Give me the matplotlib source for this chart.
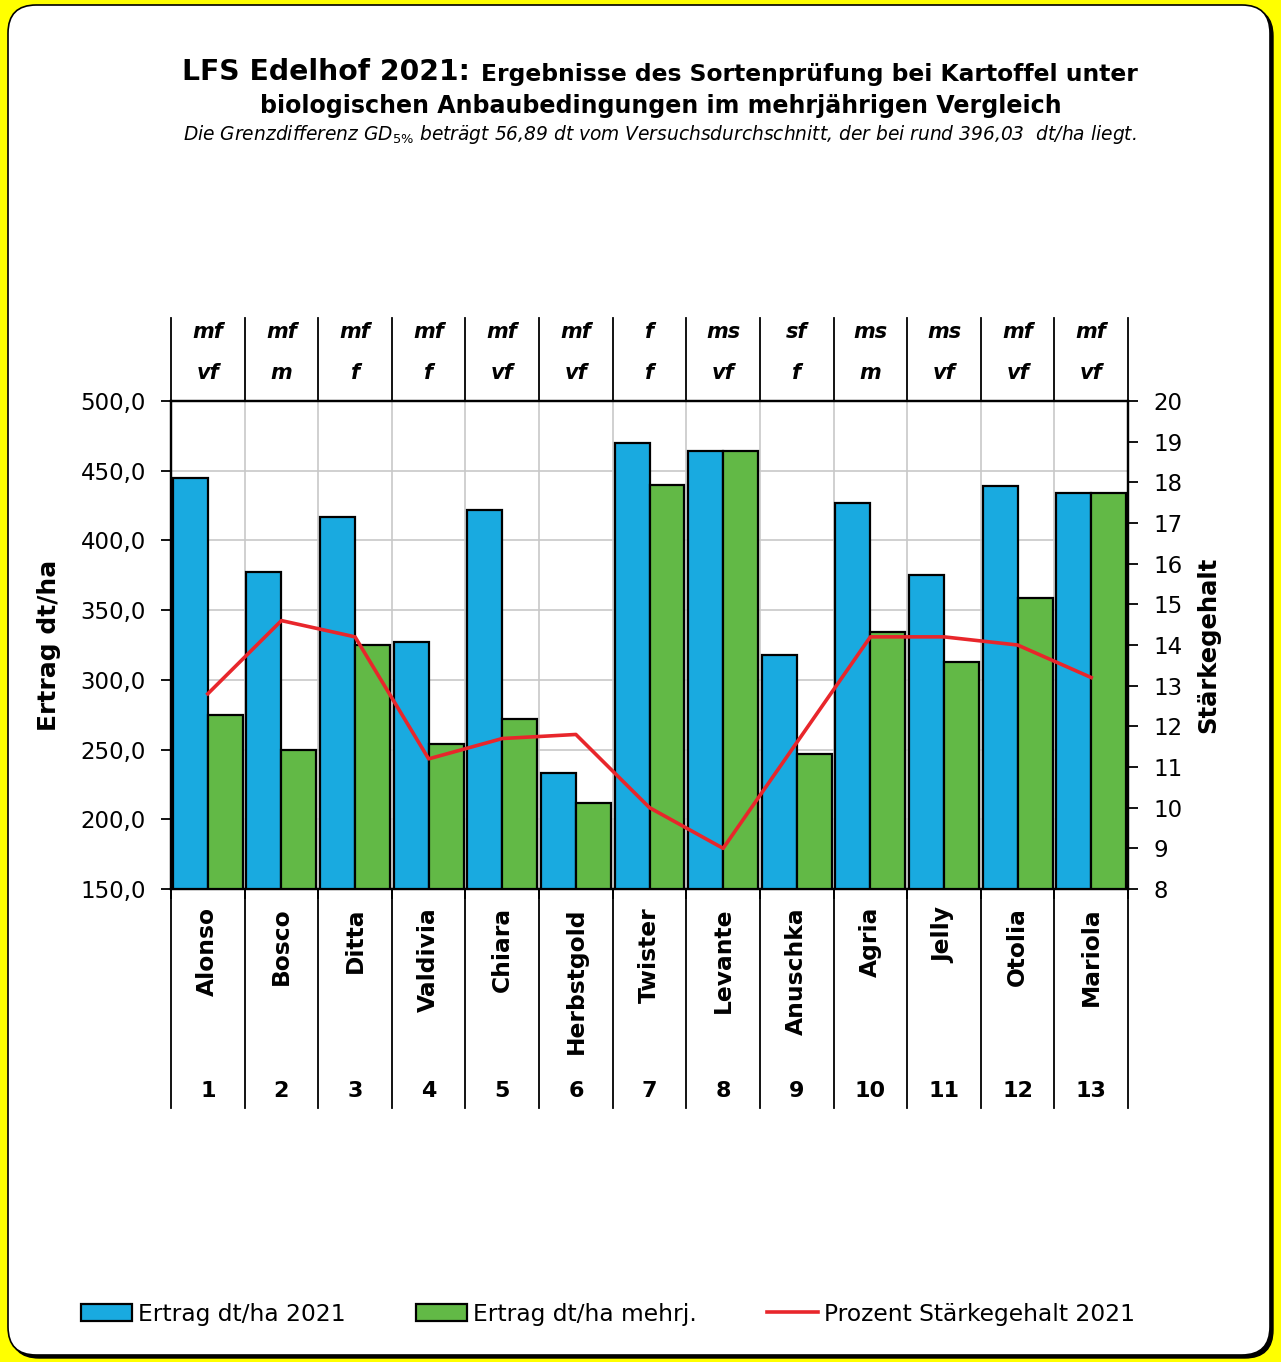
import numpy as np
import matplotlib
matplotlib.use("Agg")
import matplotlib.pyplot as plt
from matplotlib.patches import FancyBboxPatch, Patch
from matplotlib.lines import Line2D

sorten = ["Alonso", "Bosco", "Ditta", "Valdivia", "Chiara", "Herbstgold", "Twister",
          "Levante", "Anuschka", "Agria", "Jelly", "Otolia", "Mariola"]
nummern = [str(i) for i in range(1, 14)]
reife = ["mf", "mf", "mf", "mf", "mf", "mf", "f", "ms", "sf", "ms", "ms", "mf", "mf"]
typ = ["vf", "m", "f", "f", "vf", "vf", "f", "vf", "f", "m", "vf", "vf", "vf"]
ertrag_2021 = [445, 377, 417, 327, 422, 233, 470, 464, 318, 427, 375, 439, 434]
ertrag_mehrj = [275, 250, 325, 254, 272, 212, 440, 464, 247, 334, 313, 359, 434]
staerke_2021 = [12.8, 14.6, 14.2, 11.2, 11.7, 11.8, 10.0, 9.0, 11.6, 14.2, 14.2, 14.0, 13.2]

W, H = 1281, 1362
fig = plt.figure(figsize=(W / 100, H / 100), dpi=100)
fig.patch.set_facecolor("#ffff00")

# frame with shadow
shadow = FancyBboxPatch((11 / W, 4 / H), 1262 / W, 1350 / H,
                        boxstyle="round,pad=0,rounding_size=0.022",
                        transform=fig.transFigure, facecolor="black", edgecolor="black",
                        mutation_aspect=W / H, zorder=-3)
frame = FancyBboxPatch((8 / W, 7 / H), 1262 / W, 1350 / H,
                       boxstyle="round,pad=0,rounding_size=0.022",
                       transform=fig.transFigure, facecolor="white", edgecolor="black",
                       linewidth=1.2, mutation_aspect=W / H, zorder=-2)
fig.patches.extend([shadow, frame])

ax = fig.add_axes([171 / W, 1 - 889 / H, (1128 - 171) / W, (889 - 401) / H])
ax.set_facecolor("none")
x = np.arange(len(sorten))
bw = 0.475
blue = "#19aae0"
green = "#62b946"
ax.bar(x - bw / 2, ertrag_2021, width=bw, color=blue, edgecolor="black", linewidth=1.6, zorder=3)
ax.bar(x + bw / 2, ertrag_mehrj, width=bw, color=green, edgecolor="black", linewidth=1.6, zorder=3)
ax.set_ylim(150, 500)
ax.set_xlim(-0.5, len(sorten) - 0.5)
ax.set_yticks(np.arange(150, 501, 50))
ax.set_yticklabels([f"{v:.1f}".replace(".", ",") for v in np.arange(150, 501, 50)], fontsize=16.5)
ax.set_xticks(np.arange(-0.5, len(sorten), 1.0))
ax.set_xticklabels([])
ax.grid(True, color="#c8c8c8", linewidth=1.2, zorder=0)
ax.set_axisbelow(True)
ax.tick_params(axis="both", direction="out", length=7, width=1.3, color="black")
ax.tick_params(axis="y", pad=11)
for s in ax.spines.values():
    s.set_linewidth(1.6)
    s.set_color("black")
ax.set_ylabel("Ertrag dt/ha", fontsize=18, fontweight="bold", labelpad=14)

ax2 = ax.twinx()
ax2.plot(x, staerke_2021, color="#e8262b", linewidth=2.6, zorder=5)
ax2.set_ylim(8, 20)
ax2.set_yticks(np.arange(8, 21, 1))
ax2.set_yticklabels([str(v) for v in range(8, 21)], fontsize=16.5)
ax2.tick_params(axis="y", direction="out", length=7, width=1.3, pad=11)
ax2.set_ylabel("Stärkegehalt", fontsize=17.5, fontweight="bold", labelpad=10)
for s in ax2.spines.values():
    s.set_linewidth(1.6)

tr = ax.get_xaxis_transform()
# separators
for b in np.arange(-0.5, len(sorten), 1.0):
    ax.plot([b, b], [1.0, 1.170], transform=tr, color="black", linewidth=1.3, clip_on=False)
    ax.plot([b, b], [0.0, -0.449], transform=tr, color="black", linewidth=1.3, clip_on=False)

for i in range(len(sorten)):
    ax.text(i, 1.141, reife[i], transform=tr, ha="center", va="center", fontsize=15,
            fontweight="bold", fontstyle="italic")
    ax.text(i, 1.057, typ[i], transform=tr, ha="center", va="center", fontsize=15,
            fontweight="bold", fontstyle="italic")
    ax.text(i, -0.037, sorten[i], transform=tr, ha="center", va="top", rotation=90,
            fontsize=16.8, fontweight="bold")
    ax.text(i, -0.414, nummern[i], transform=tr, ha="center", va="center",
            fontsize=16, fontweight="bold")

# titles
fig.text(182 / W, 1 - 72 / H, "LFS Edelhof 2021:", ha="left", va="center",
         fontsize=20.3, fontweight="bold")
fig.text(1138 / W, 1 - 74 / H, "Ergebnisse des Sortenprüfung bei Kartoffel unter",
         ha="right", va="center", fontsize=16.8, fontweight="bold")
fig.text(661 / W, 1 - 106 / H, "biologischen Anbaubedingungen im mehrjährigen Vergleich",
         ha="center", va="center", fontsize=17.1, fontweight="bold")
fig.text(660 / W, 1 - 135 / H,
         "Die Grenzdifferenz GD$_{5\\%}$ beträgt 56,89 dt vom Versuchsdurchschnitt, der bei rund 396,03  dt/ha liegt.",
         ha="center", va="center", fontsize=13.4, fontstyle="italic")

handles = [Patch(facecolor=blue, edgecolor="black", linewidth=1.6),
           Patch(facecolor=green, edgecolor="black", linewidth=1.6),
           Line2D([], [], color="#e8262b", linewidth=2.6)]
labels = ["Ertrag dt/ha 2021", "Ertrag dt/ha mehrj.", "Prozent Stärkegehalt 2021"]
fig.legend(handles, labels, loc="center", bbox_to_anchor=(608 / W, 1 - 1314 / H), ncol=3,
           frameon=False, fontsize=16.8, handlelength=2.2, handleheight=0.7,
           handletextpad=0.25, columnspacing=3.0)

fig.savefig("out.png", dpi=100, facecolor=fig.get_facecolor())
